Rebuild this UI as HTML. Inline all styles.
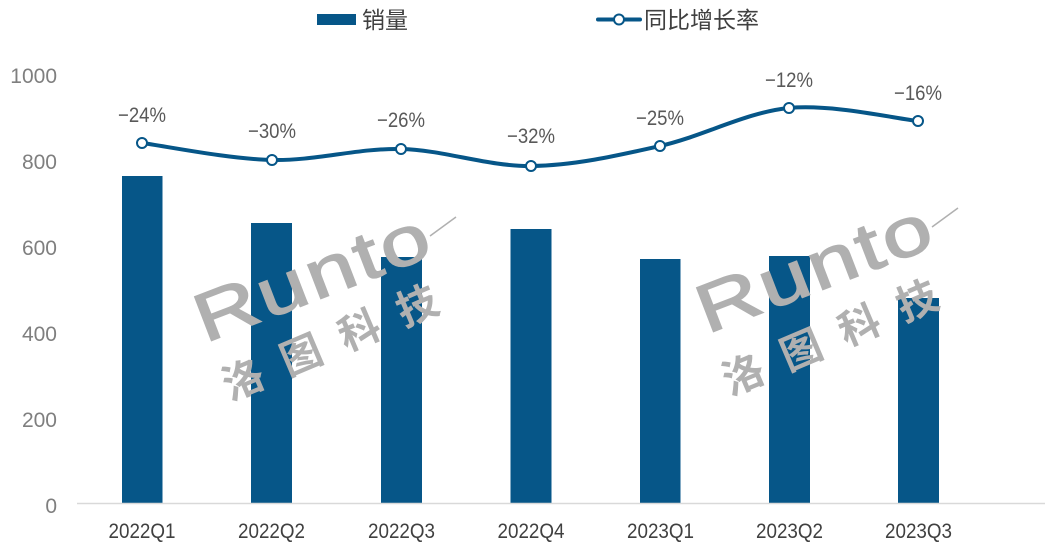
<!DOCTYPE html>
<html>
<head>
<meta charset="utf-8">
<style>
html,body{margin:0;padding:0;background:#fff;}
svg{display:block;}
</style>
</head>
<body>
<svg width="1045" height="553" viewBox="0 0 1045 553" xmlns="http://www.w3.org/2000/svg">
<rect width="1045" height="553" fill="#fff"/>

<!-- Legend -->
<rect x="317" y="14" width="39" height="11" fill="#065688"/>
<text x="362" y="28" font-family="'Liberation Sans','Noto Sans CJK SC',sans-serif" font-size="23" fill="#404040">销量</text>
<line x1="598" y1="19.5" x2="640" y2="19.5" stroke="#065688" stroke-width="4" stroke-linecap="round"/>
<circle cx="619" cy="19.5" r="5" fill="#fff" stroke="#065688" stroke-width="2"/>
<text x="644" y="28" font-family="'Liberation Sans','Noto Sans CJK SC',sans-serif" font-size="23" fill="#404040">同比增长率</text>

<!-- Y axis labels -->
<g font-family="'Liberation Sans',sans-serif" font-size="21" fill="#7f7f7f" text-anchor="end">
<text x="57" y="83">1000</text>
<text x="57" y="169">800</text>
<text x="57" y="255">600</text>
<text x="57" y="341">400</text>
<text x="57" y="427">200</text>
<text x="57" y="513">0</text>
</g>

<!-- Bars -->
<g fill="#065688">
<rect x="122" y="176" width="40.5" height="327"/>
<rect x="251" y="223" width="41" height="280"/>
<rect x="381" y="257" width="41" height="246"/>
<rect x="510.5" y="229" width="41" height="274"/>
<rect x="640" y="259" width="40.5" height="244"/>
<rect x="769" y="256" width="41" height="247"/>
<rect x="898" y="298" width="41" height="205"/>
</g>

<!-- X axis -->
<line x1="77" y1="503.5" x2="1045" y2="503.5" stroke="#d9d9d9" stroke-width="1.5"/>
<g font-family="'Liberation Sans',sans-serif" font-size="21" fill="#404040" text-anchor="middle">
<text x="142" y="538" textLength="67" lengthAdjust="spacingAndGlyphs">2022Q1</text>
<text x="271.5" y="538" textLength="67" lengthAdjust="spacingAndGlyphs">2022Q2</text>
<text x="401.5" y="538" textLength="67" lengthAdjust="spacingAndGlyphs">2022Q3</text>
<text x="531" y="538" textLength="67" lengthAdjust="spacingAndGlyphs">2022Q4</text>
<text x="660.5" y="538" textLength="67" lengthAdjust="spacingAndGlyphs">2023Q1</text>
<text x="789.5" y="538" textLength="67" lengthAdjust="spacingAndGlyphs">2023Q2</text>
<text x="918.5" y="538" textLength="67" lengthAdjust="spacingAndGlyphs">2023Q3</text>
</g>

<!-- Watermarks -->
<g fill="#b0b0b0">
  <g transform="translate(205,343) rotate(-21)">
    <text x="0" y="0" font-family="'Liberation Sans',sans-serif" font-size="68" transform="scale(1.3,1)" stroke="#b0b0b0" stroke-width="1.5" letter-spacing="2">Runto</text>
  </g>
  <line x1="430" y1="236" x2="456" y2="217" stroke="#b0b0b0" stroke-width="1.5"/>
  <g transform="translate(230,401) rotate(-23)">
    <text x="0" y="0" font-family="'Noto Sans CJK SC',sans-serif" font-weight="bold" font-size="41" letter-spacing="22">洛图科技</text>
  </g>
</g>
<g fill="#b0b0b0" transform="translate(502,-9)">
  <g transform="translate(205,343) rotate(-21)">
    <text x="0" y="0" font-family="'Liberation Sans',sans-serif" font-size="68" transform="scale(1.3,1)" stroke="#b0b0b0" stroke-width="1.5" letter-spacing="2">Runto</text>
  </g>
  <line x1="430" y1="236" x2="456" y2="217" stroke="#b0b0b0" stroke-width="1.5"/>
  <g transform="translate(228,405) rotate(-23)">
    <text x="0" y="0" font-family="'Noto Sans CJK SC',sans-serif" font-weight="bold" font-size="41" letter-spacing="22">洛图科技</text>
  </g>
</g>

<!-- Line series -->
<path d="M142,143 C163.7,145.8 228.8,159 272,160 C315.2,161 357.8,148 401,149 C444.2,150 487.8,166.5 531,166 C574.2,165.5 617,155.7 660,146 C703,136.3 746,112.2 789,108 C832,103.8 896.5,118.8 918,121" fill="none" stroke="#065688" stroke-width="4" stroke-linecap="round"/>
<g fill="#fff" stroke="#065688" stroke-width="2">
<circle cx="142" cy="143" r="5"/>
<circle cx="272" cy="160" r="5"/>
<circle cx="401" cy="149" r="5"/>
<circle cx="531" cy="166" r="5"/>
<circle cx="660" cy="146" r="5"/>
<circle cx="789" cy="108" r="5"/>
<circle cx="918" cy="121" r="5"/>
</g>

<!-- Data labels -->
<g font-family="'Liberation Sans',sans-serif" font-size="21" fill="#595959" text-anchor="middle">
<text x="142" y="122" textLength="48" lengthAdjust="spacingAndGlyphs">−24%</text>
<text x="272" y="138" textLength="48" lengthAdjust="spacingAndGlyphs">−30%</text>
<text x="401" y="127" textLength="48" lengthAdjust="spacingAndGlyphs">−26%</text>
<text x="531" y="143" textLength="48" lengthAdjust="spacingAndGlyphs">−32%</text>
<text x="660" y="125" textLength="48" lengthAdjust="spacingAndGlyphs">−25%</text>
<text x="789" y="87" textLength="48" lengthAdjust="spacingAndGlyphs">−12%</text>
<text x="918" y="100" textLength="48" lengthAdjust="spacingAndGlyphs">−16%</text>
</g>
</svg>
</body>
</html>
